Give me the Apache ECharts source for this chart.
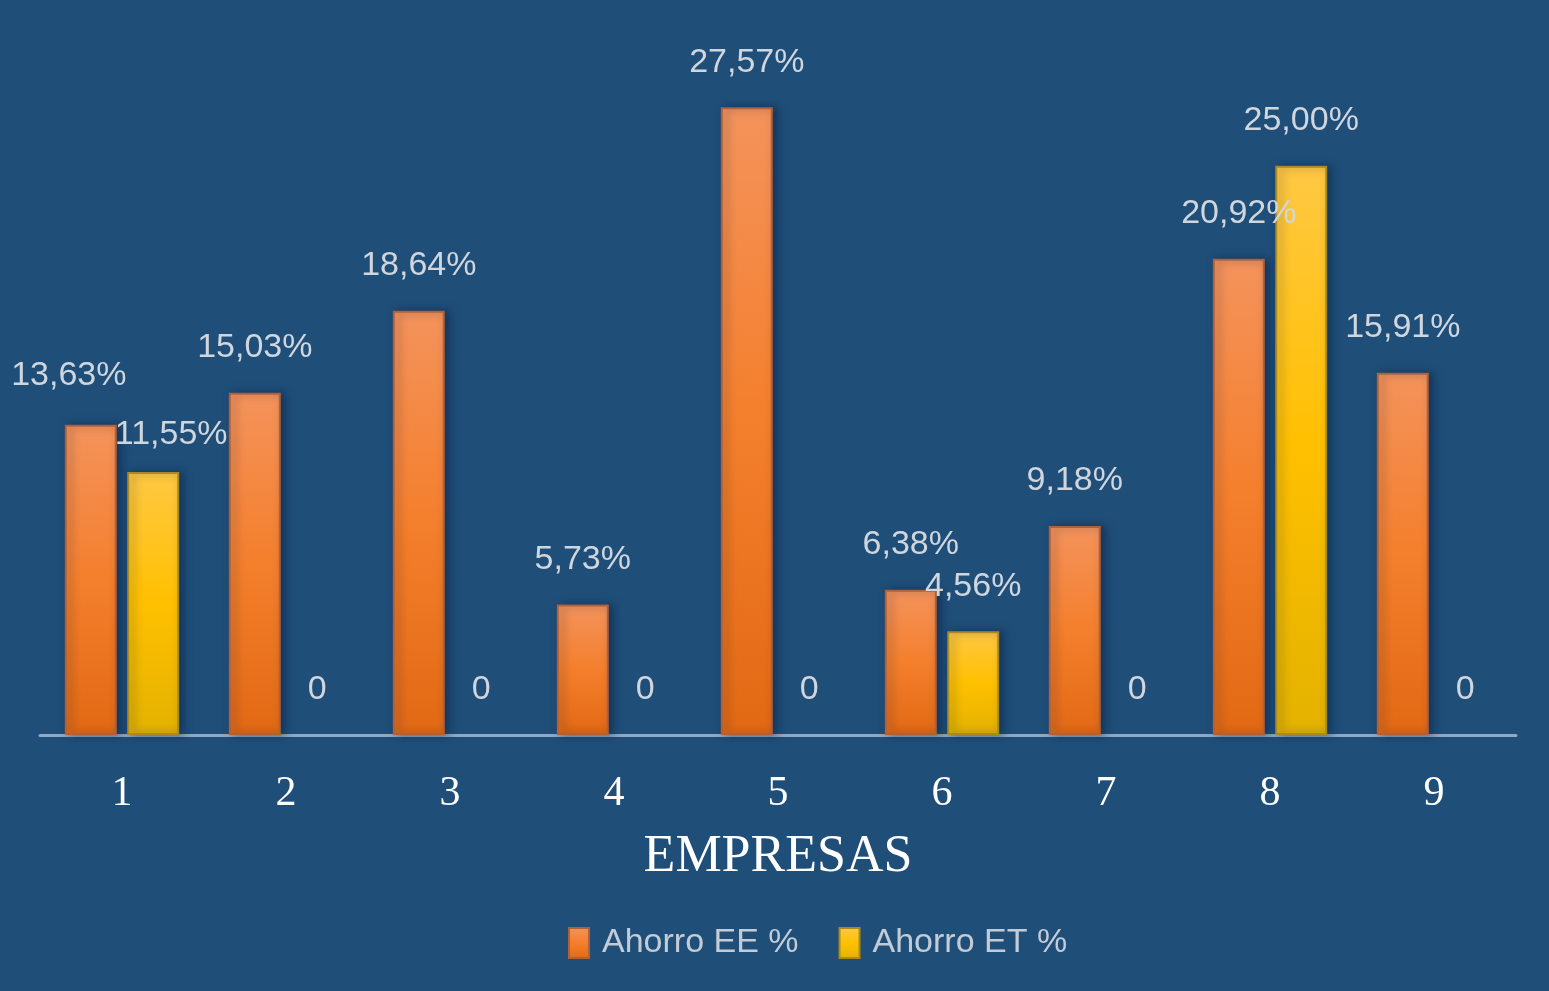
<!DOCTYPE html>
<html>
<head>
<meta charset="utf-8">
<script src="https://cdn.jsdelivr.net/npm/echarts@6/dist/echarts.min.js"></script>
<style>
  html, body { margin: 0; padding: 0; background: #1f4e79; }
  #chart { width: 1549px; height: 991px; }
</style>
</head>
<body>
<div id="chart"></div>
<script>
// datos
var empresas = ['1', '2', '3', '4', '5', '6', '7', '8', '9']
var ahorroEE = [13.63, 15.03, 18.64, 5.73, 27.57, 6.38, 9.18, 20.92, 15.91]
var ahorroET = [11.55, 0, 0, 0, 0, 4.56, 0, 25.00, 0]

// etiqueta: 0 sin decimales, resto con coma y %
function fmt(p) {
  if (p.value === 0) return '0'
  return p.value.toFixed(2).replace('.', ',') + '%'
}

var labelStyle = {
  show: true,
  position: 'top',
  distance: 28,
  color: '#d0d6de',
  fontSize: 34,
  fontFamily: 'Liberation Sans Narrow, Liberation Sans, sans-serif',
  formatter: fmt
}

// barras en cero sin borde
function toItems(arr, firstOffset) {
  return arr.map(function (v, i) {
    var item = { value: v }
    if (v === 0) item.itemStyle = { borderWidth: 0, shadowBlur: 0 }
    if (i === 0) item.label = { offset: firstOffset }
    return item
  })
}

var chart = echarts.init(document.getElementById('chart'))
chart.setOption({
  backgroundColor: '#1f4e79',
  animation: false,
  grid: { left: 40, right: 33, top: 52, bottom: 256 },
  legend: {
    bottom: 26,
    left: 563,
    itemWidth: 20,
    itemHeight: 30,
    itemGap: 40,
    icon: 'rect',
    textStyle: { color: '#c3ccd6', fontSize: 34, padding: [0, 0, 0, 8], fontFamily: 'Liberation Sans Narrow, Liberation Sans, sans-serif' },
    data: ['Ahorro EE %', 'Ahorro ET %']
  },
  xAxis: {
    type: 'category',
    data: empresas,
    name: 'EMPRESAS',
    nameLocation: 'middle',
    nameGap: 96,
    nameTextStyle: { color: '#ffffff', fontSize: 52, fontFamily: 'Liberation Serif, DejaVu Serif, serif' },
    axisLine: { lineStyle: { color: '#8ea9c1', width: 3 } },
    axisTick: { show: false },
    axisLabel: { color: '#ffffff', fontSize: 42, margin: 38, fontFamily: 'Liberation Serif, DejaVu Serif, serif' }
  },
  yAxis: {
    type: 'value',
    min: 0,
    max: 30,
    show: false,
    splitLine: { show: false }
  },
  series: [
    {
      name: 'Ahorro EE %',
      type: 'bar',
      data: toItems(ahorroEE, [-22, -4]),
      barWidth: 52,
      barGap: '20%',
      itemStyle: {
        color: new echarts.graphic.LinearGradient(0, 0, 0, 1, [
          { offset: 0, color: '#f4935c' },
          { offset: 0.5, color: '#f47f2c' },
          { offset: 1, color: '#e26914' }
        ]),
        borderColor: '#b0603a',
        borderWidth: 2,
        shadowColor: 'rgba(10,30,60,0.5)',
        shadowBlur: 8,
        shadowOffsetX: 4
      },
      label: labelStyle
    },
    {
      name: 'Ahorro ET %',
      type: 'bar',
      data: toItems(ahorroET, [18, 8]),
      barWidth: 52,
      itemStyle: {
        color: new echarts.graphic.LinearGradient(0, 0, 0, 1, [
          { offset: 0, color: '#ffc843' },
          { offset: 0.5, color: '#ffc000' },
          { offset: 1, color: '#e3b200' }
        ]),
        borderColor: '#a88a22',
        borderWidth: 2,
        shadowColor: 'rgba(10,30,60,0.5)',
        shadowBlur: 8,
        shadowOffsetX: 4
      },
      label: labelStyle
    }
  ]
})
</script>
</body>
</html>
